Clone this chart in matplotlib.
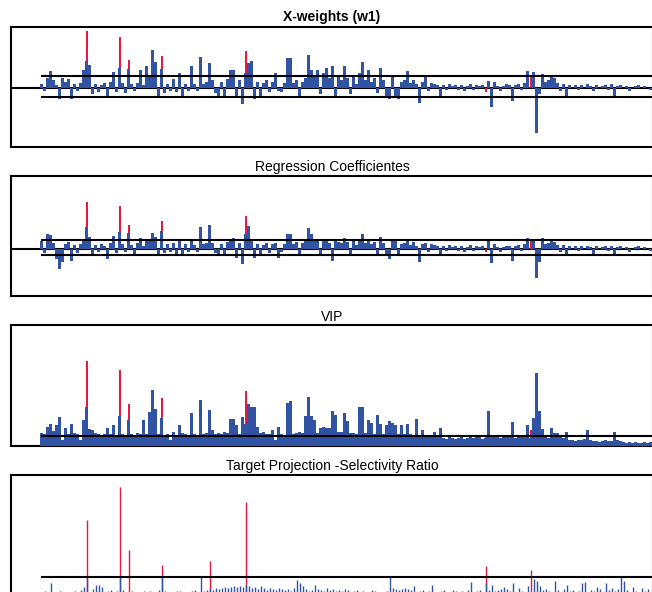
import numpy as np
import matplotlib
matplotlib.use('Agg')
import matplotlib.pyplot as plt

plt.rcParams['font.family'] = ['Liberation Sans', 'DejaVu Sans']

BLUE = '#3153a4'
RED = '#e8183f'

# variables flagged in red (same variables in every panel)
red_idx = [15, 26, 29, 40, 56, 68, 148, 163]

# X-weights (w1)
w1 = [4, -3, 10, 17, 8, 3, -11, 10, 6, 9, -11, 4,
      -3, 5, 18, 27, 23, -6, 4, -4, 3, 5, -8, 6,
      16, -4, 20, 5, -5, 19, 4, -3, 5, 18, 3, 22,
      12, 38, 26, -8, 19, -5, 4, -3, 9, -4, 15, -8,
      4, -3, 22, 4, -3, 31, 4, 6, 25, 8, -5, -9,
      6, -8, 9, 18, 18, -9, 8, -16, 15, 25, 27, -11,
      6, -10, 5, 8, -4, 6, 15, -3, -4, 5, 30, 30,
      5, 8, -8, 6, 10, 33, 18, 12, 18, -6, 15, 20,
      10, 22, -8, 12, 8, 22, 10, -6, 12, 4, 15, 26,
      8, 18, 6, 10, -5, 20, 8, -10, -11, 12, -9, -11,
      6, 8, 17, 5, 8, 4, -15, 6, 11, -3, 5, 4,
      3, -8, 3, -2, 4, 2, 3, -2, 3, -3, 2, 4,
      -2, 3, 2, 3, 0, 7, -19, 6, 2, -3, 2, 4,
      3, -13, 3, 4, -2, 5, 17, 0, 16, -45, -6, 14,
      6, 8, 11, 10, 5, -3, 4, -8, 3, 0, 3, -2,
      3, 0, 4, 2, -3, 3, 0, 2, 3, -2, 4, -8,
      2, 3, 0, 2, -3, 0, 2, 3, 0, 2, 0, -2]
w1_red = [57, 51, 28, 32, 20, 37, -4, 12]
w1_limits = [12, -9]

# regression coefficients
coef = [8, -4, 15, 14, 6, -10, -20, -13, 5, 7, -12, 4,
        -4, 5, 10, 22, 12, -5, 4, -3, 5, 3, -10, 6,
        13, -4, 17, 5, -3, 16, 4, -5, 6, 11, 3, 10,
        9, 16, 12, -6, 18, -4, 5, -3, 6, -5, 9, -6,
        5, -3, 8, 4, -3, 22, 5, 6, 24, 6, -4, -6,
        5, -7, 7, 9, 11, -9, 6, -15, 15, 23, 10, -9,
        5, -7, 4, 6, -4, 5, 6, -9, -3, 5, 15, 15,
        5, 7, -5, 6, 8, 21, 15, 8, 10, -5, 8, 10,
        6, -12, 8, 7, 6, 11, 7, -5, 9, 4, 10, 15,
        6, 9, 5, 7, -5, 12, 6, -6, -10, 8, 10, -6,
        5, 6, 9, 4, 7, 3, -13, 5, 6, -3, 5, 4,
        3, -5, 3, -2, 4, 2, 3, -2, 3, -3, 2, 4,
        -2, 3, 2, 3, 0, 10, -14, 5, 2, -3, 2, 3,
        3, -12, 3, 4, -2, 5, 11, 0, 10, -29, -13, 11,
        5, 6, 8, 7, 4, -3, 4, -5, 3, 0, 3, -2,
        3, 0, 3, 2, -6, 3, 0, 2, 3, -2, 3, -5,
        2, 3, 0, 2, -3, 0, 2, 3, 0, 2, 0, -2]
coef_red = [47, 43, 24, 28, 15, 33, -3, 8]
coef_limits = [8.3, -6.3]

# VIP
vip = [13, 12, 19, 22, 15, 21, 29, 6, 18, 12, 22, 13,
       12, 6, 26, 39, 17, 16, 13, 12, 11, 12, 18, 12,
       21, 11, 30, 12, 11, 26, 12, 11, 13, 12, 26, 12,
       34, 56, 37, 12, 28, 11, 12, 6, 14, 11, 21, 13,
       12, 11, 33, 12, 11, 46, 12, 13, 36, 16, 12, 13,
       12, 14, 13, 27, 27, 21, 12, 29, 22, 42, 39, 39,
       19, 13, 14, 12, 12, 16, 6, 19, 12, 11, 43, 45,
       12, 13, 14, 13, 30, 49, 30, 26, 13, 18, 19, 18,
       18, 35, 31, 14, 14, 33, 25, 13, 13, 12, 39, 39,
       13, 26, 23, 12, 31, 22, 12, 21, 25, 23, 21, 12,
       21, 12, 22, 12, 11, 27, 10, 16, 9, 10, 9, 14,
       9, 18, 8, 7, 9, 8, 7, 8, 9, 7, 8, 9,
       8, 9, 9, 7, 8, 35, 9, 10, 9, 8, 9, 10,
       9, 24, 8, 9, 10, 9, 21, 8, 28, 73, 35, 17,
       9, 8, 18, 13, 13, 9, 8, 14, 6, 6, 5, 6,
       6, 7, 16, 6, 5, 5, 4, 5, 6, 5, 5, 14,
       6, 5, 4, 3, 4, 3, 4, 3, 3, 4, 3, 4]
vip_red = [85, 76, 42, 48, 20, 55, 11, 16]
vip_limit = 10

# target projection - selectivity ratio
sr = [0, 4, 0, 12, 3, 0, 4, 0, 0, 3, 0, 4,
      0, 5, 8, 18, 0, 6, 10, 10, 8, 0, 4, 5,
      0, 4, 18, 5, 0, 0, 4, 0, 3, 0, 4, 0,
      4, 3, 0, 5, 18, 4, 0, 3, 0, 4, 4, 0,
      3, 0, 4, 5, 0, 18, 4, 5, 6, 5, 7, 6,
      7, 8, 7, 8, 9, 8, 9, 8, 10, 9, 7, 8,
      6, 9, 7, 5, 7, 6, 5, 7, 6, 5, 6, 4,
      7, 15, 12, 9, 6, 4, 5, 10, 6, 5, 4, 7,
      5, 6, 4, 5, 4, 6, 5, 0, 4, 5, 0, 4,
      3, 0, 5, 4, 0, 3, 0, 4, 18, 7, 6, 5,
      6, 7, 6, 5, 9, 0, 4, 5, 0, 4, 10, 3,
      0, 4, 5, 3, 0, 5, 4, 0, 4, 3, 5, 13,
      0, 4, 5, 3, 12, 5, 10, 4, 5, 6, 8, 6,
      4, 12, 0, 7, 4, 0, 9, 0, 16, 14, 9, 5,
      6, 4, 0, 14, 5, 0, 6, 10, 4, 5, 0, 4,
      12, 13, 0, 5, 4, 8, 6, 0, 12, 5, 7, 4,
      6, 18, 14, 5, 0, 8, 4, 0, 7, 4, 6, 0]
sr_red = [74.5, 107.5, 44.5, 29.5, 33.5, 92.5, 28.5, 24.5]
sr_limit = 18

idx = np.arange(len(w1))

W, H = 652, 592
fig = plt.figure(figsize=(W / 100, H / 100), dpi=100)


def make_axes(top, bottom):
    ax = fig.add_axes([11 / W, 1 - bottom / H, (653 - 11) / W, (bottom - top) / H])
    ax.set_xlim(-10.33, 203.67)
    ax.set_xticks([])
    ax.set_yticks([])
    for s in ax.spines.values():
        s.set_linewidth(1.5)
    return ax


# signed panels
ax1 = make_axes(27, 146.7)
ax2 = make_axes(175.7, 295.7)
for ax, vals, reds, lims, ylim in [(ax1, w1, w1_red, w1_limits, (-59, 61)),
                                    (ax2, coef, coef_red, coef_limits, (-47, 73))]:
    ax.axhline(0, color='k', lw=1.5, zorder=1)
    ax.bar(red_idx, reds, width=0.67, color=RED, linewidth=0, zorder=2)
    ax.bar(idx, vals, width=1.0, color=BLUE, linewidth=0, zorder=3)
    ax.hlines(lims, -0.3, 210, colors='k', lw=1.5, zorder=4)
    ax.set_ylim(*ylim)

ax1.set_title('X-weights (w1)', fontsize=10, fontweight='bold', pad=4.5)
ax2.set_title('Regression Coefficientes', fontsize=10, pad=3.2)

# VIP
ax3 = make_axes(325, 445.7)
ax3.bar(red_idx, vip_red, width=0.67, color=RED, linewidth=0, zorder=2)
ax3.bar(idx, vip, width=1.0, color=BLUE, linewidth=0, zorder=3)
ax3.hlines(vip_limit, -0.3, 210, colors='k', lw=1.5, zorder=4)
ax3.set_ylim(0, 120.7)
ax3.set_title('VIP', fontsize=10, pad=3.2)

# selectivity ratio
ax4 = make_axes(474.5, 594.5)
ax4.vlines(red_idx, 0, sr_red, colors=RED, lw=1.0, zorder=2)
ax4.vlines(idx, 0, sr, colors=BLUE, lw=1.0, zorder=3)
ax4.hlines(sr_limit, -0.3, 210, colors='k', lw=1.5, zorder=4)
ax4.set_ylim(0, 120)
ax4.set_title('Target Projection -Selectivity Ratio', fontsize=10, pad=3.2)

fig.savefig('out.png', dpi=100)
